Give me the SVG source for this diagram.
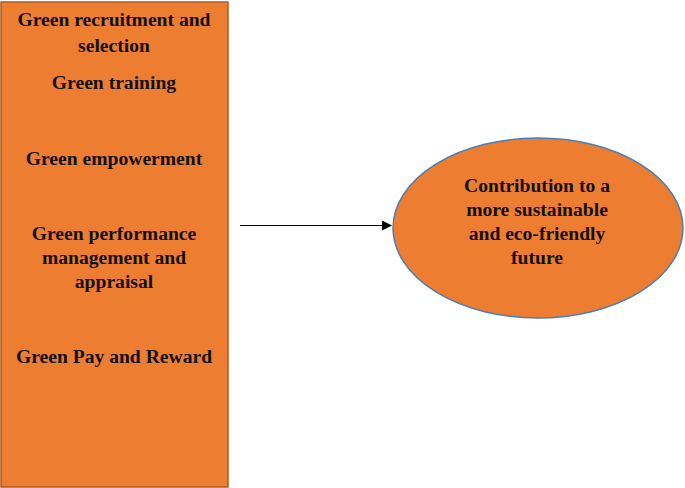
<svg xmlns="http://www.w3.org/2000/svg" width="685" height="488" viewBox="0 0 685 488">
<defs>
<style>
.t{font-family:"Liberation Serif","Times New Roman",serif;font-weight:bold;font-size:19.6px;fill:#111;text-anchor:middle}
</style>
<marker id="ah" markerWidth="10" markerHeight="10" refX="9" refY="5" orient="auto" markerUnits="userSpaceOnUse">
<path d="M0,0 L10,5 L0,10 Z" fill="#000"/>
</marker>
</defs>
<rect width="685" height="488" fill="#fff"/>
<g id="connectors">
<line x1="240" y1="225.5" x2="391" y2="225.5" stroke="#000" stroke-width="1.2" marker-end="url(#ah)"/>
</g>
<g id="practices">
<rect x="1" y="2" width="227" height="485" fill="#ED7D31" stroke="#AE5A21" stroke-width="1.5"/>
<text class="t" x="114" y="26">Green recruitment and</text>
<text class="t" x="114" y="52">selection</text>
<text class="t" x="114" y="89">Green training</text>
<text class="t" x="114" y="165">Green empowerment</text>
<text class="t" x="114" y="240">Green performance</text>
<text class="t" x="114" y="264">management and</text>
<text class="t" x="114" y="288">appraisal</text>
<text class="t" x="114" y="363">Green Pay and Reward</text>
</g>
<g id="outcome">
<ellipse cx="538" cy="228" rx="145" ry="90" fill="#ED7D31" stroke="#4A7EBB" stroke-width="1.5"/>
<text class="t" x="537" y="192">Contribution to a</text>
<text class="t" x="537" y="216">more sustainable</text>
<text class="t" x="537" y="240">and eco-friendly</text>
<text class="t" x="537" y="264">future</text>
</g>
</svg>
